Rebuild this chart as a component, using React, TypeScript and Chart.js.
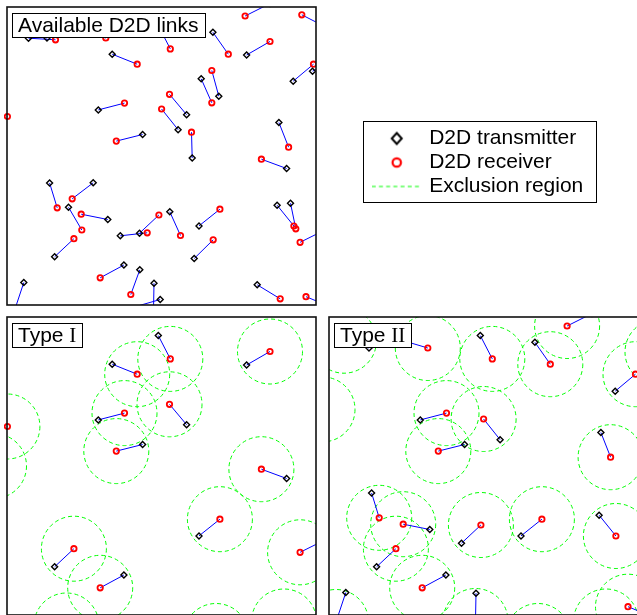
import React, { useEffect, useRef } from 'react';
import { Chart, registerables } from 'chart.js';

Chart.register(...registerables);

// Deployment area (metres, y measured downward from the top edge)
const AREA_W = 309;
const AREA_H = 298;
const EXCL_R = 32.5; // exclusion radius around each receiver

// D2D links: transmitter and receiver positions (index = link id)
const TX_X = [21.5, 40, 72, 105.2, -24, 91.3, 171.1, 135.6, 151.3, 205.9, 263, 319.8, 239.6, 211.8, 194.2, 179.6, 185.2, 286.2, 305.5, 271.9, 279.6, 42.6, 86.2, 61.5, 100.8, 47.6, 113.3, 132.5, 116.9, 132.8, 16.8, 147, 153.2, 162.8, 192, 187.2, 270.1, 283.5, 317.8, 250.2, 324.8, -38, 75, 230, 300, -30, 345];
const TX_Y = [31.2, 31, 23, 47.2, 100, 102.9, 122.7, 127.5, 18.6, 25.3, -3.5, 20.6, 48, 89.2, 71.8, 107.7, 151, 74.2, 64.2, 115.5, 161.5, 176, 175.8, 200.3, 212.5, 249.8, 228.8, 226.2, 258, 262.8, 275.5, 276.2, 292.5, 204.8, 218.9, 251.5, 198.2, 196.2, 223, 277.8, 300.3, 160, 330, 335, 318, 80, 15];
const RX_X = [48.5, 15, 98.8, 130.2, 0.4, 117.5, 154.6, 109.3, 163.3, 221.3, 238.1, 294.8, 263, 204.8, 204.8, 162.5, 184.5, 306.5, 331, 281.6, 254.4, 50.2, 65.2, 74.8, 74.2, 66.9, 140.2, 151.9, 93.2, 123.8, 7, 146.5, 122, 173.5, 212.9, 206.2, 286.9, 288.8, 293.1, 273.2, 299, -13, 59.5, 209, 277, -6.5, 328.5];
const RX_Y = [32.8, 23.7, 31, 57.2, 109.5, 96.1, 102, 134.1, 41.9, 47.2, 9, 7.8, 34.5, 63.5, 95.8, 87.3, 125.2, 57.2, 52, 140.2, 152.2, 200.8, 191.8, 223, 207.2, 231.7, 225.8, 208, 270.8, 287.5, 305, 304, 301.5, 228.5, 202.2, 232.8, 219, 221.8, 235.3, 291.8, 289.7, 149, 308.5, 319, 304.5, 92.4, 35];

const ALL_LINKS = TX_X.map((_, i) => i);
const TYPE1_LINKS = [3, 4, 5, 7, 8, 12, 15, 20, 25, 28, 34, 38, 41, 42, 43, 44];
const TYPE2_LINKS = [1, 2, 5, 6, 7, 8, 9, 10, 17, 19, 21, 24, 25, 27, 28, 30, 31, 34, 36, 40, 43, 44, 45, 46];

const LEGEND_LABELS = ['D2D transmitter', 'D2D receiver', 'Exclusion region'];

const SANS = "'Liberation Sans', Arial, Helvetica, sans-serif";
const SERIF = "'Liberation Serif', 'Times New Roman', serif";

const TX_COLOR = '#000000';
const RX_COLOR = '#ff0000';
const LINK_COLOR = '#0000ff';
const EXCL_COLOR = '#00ff00';

type Part = { text: string; font: string };

const dashPlugin = {
  id: 'exclDash',
  beforeDatasetDraw(chart: any, args: any) {
    const ds = chart.data.datasets[args.index];
    if (ds && ds.isExcl) chart.ctx.setLineDash([4, 3]);
  },
  afterDatasetDraw(chart: any) {
    chart.ctx.setLineDash([]);
  },
};

const framePlugin = {
  id: 'panelFrame',
  afterDraw(chart: any, _args: any, opts: any) {
    const { ctx, chartArea: a } = chart;
    ctx.save();
    ctx.setLineDash([]);
    ctx.lineWidth = 1.6;
    ctx.strokeStyle = '#111';
    ctx.strokeRect(a.left, a.top, a.right - a.left, a.bottom - a.top);
    const parts: Part[] = opts && opts.parts;
    if (parts && parts.length) {
      let w = 0;
      parts.forEach((p) => {
        ctx.font = p.font;
        w += ctx.measureText(p.text).width;
      });
      const bx = Math.round(a.left + 5);
      const by = Math.round(a.top + 6);
      const bw = Math.round(w + 12);
      const bh = 24;
      ctx.fillStyle = '#fff';
      ctx.fillRect(bx, by, bw, bh);
      ctx.lineWidth = 1;
      ctx.strokeStyle = '#000';
      ctx.strokeRect(bx + 0.5, by + 0.5, bw, bh);
      ctx.fillStyle = '#000';
      ctx.textBaseline = 'alphabetic';
      ctx.textAlign = 'left';
      let x = bx + 6;
      parts.forEach((p) => {
        ctx.font = p.font;
        ctx.fillText(p.text, x, by + 19);
        x += ctx.measureText(p.text).width;
      });
    }
    ctx.restore();
  },
};

function exclRadius(c: any) {
  const s = c.chart.scales.x;
  return Math.abs(s.getPixelForValue(EXCL_R) - s.getPixelForValue(0));
}

function buildDatasets(links: number[], showExcl: boolean) {
  const ds: any[] = [];
  if (showExcl) {
    ds.push({
      label: 'Exclusion region',
      isExcl: true,
      data: links.map((i) => ({ x: RX_X[i], y: RX_Y[i] })),
      showLine: false,
      pointStyle: 'circle',
      pointRadius: exclRadius,
      pointBorderColor: EXCL_COLOR,
      pointBackgroundColor: 'rgba(0,0,0,0)',
      pointBorderWidth: 1,
      order: 4,
      clip: 0,
    });
  }
  links.forEach((i) => {
    ds.push({
      label: 'link',
      data: [
        { x: TX_X[i], y: TX_Y[i] },
        { x: RX_X[i], y: RX_Y[i] },
      ],
      showLine: true,
      borderColor: LINK_COLOR,
      borderWidth: 1,
      pointRadius: 0,
      order: 3,
      clip: 0,
    });
  });
  ds.push({
    label: 'D2D receiver',
    data: links.map((i) => ({ x: RX_X[i], y: RX_Y[i] })),
    showLine: false,
    pointStyle: 'circle',
    pointRadius: 2.7,
    pointBorderWidth: 1.8,
    pointBorderColor: RX_COLOR,
    pointBackgroundColor: 'rgba(255,255,255,0)',
    order: 2,
    clip: { left: 5, top: 0, right: 0, bottom: 0 },
  });
  ds.push({
    label: 'D2D transmitter',
    data: links.map((i) => ({ x: TX_X[i], y: TX_Y[i] })),
    showLine: false,
    pointStyle: 'rectRot',
    pointRadius: 3,
    pointBorderWidth: 1.4,
    pointBorderColor: TX_COLOR,
    pointBackgroundColor: 'rgba(255,255,255,0)',
    order: 1,
    clip: 0,
  });
  return ds;
}

const PAD = 3;
const CW = AREA_W + 2 * PAD;
const CH = AREA_H + 2 * PAD;

function Panel(props: { left: number; top: number; links: number[]; excl: boolean; parts: Part[] }) {
  const ref = useRef<HTMLCanvasElement | null>(null);
  useEffect(() => {
    if (!ref.current) return;
    const chart = new Chart(ref.current, {
      type: 'scatter',
      data: { datasets: buildDatasets(props.links, props.excl) },
      options: {
        animation: false,
        responsive: false,
        events: [],
        layout: { padding: PAD, autoPadding: false },
        scales: {
          x: { type: 'linear', min: 0, max: AREA_W, display: false },
          y: { type: 'linear', min: 0, max: AREA_H, reverse: true, display: false },
        },
        plugins: {
          legend: { display: false },
          tooltip: { enabled: false },
          panelFrame: { parts: props.parts },
        } as any,
      } as any,
      plugins: [dashPlugin, framePlugin],
    });
    return () => chart.destroy();
  }, []);
  return (
    <canvas
      ref={ref}
      width={CW}
      height={CH}
      style={{ position: 'absolute', left: props.left, top: props.top, width: CW, height: CH }}
    />
  );
}

function makeDiamond() {
  const c = document.createElement('canvas');
  c.width = 16;
  c.height = 16;
  const g = c.getContext('2d')!;
  g.strokeStyle = TX_COLOR;
  g.lineWidth = 2;
  g.beginPath();
  g.moveTo(8, 2.5);
  g.lineTo(13, 8);
  g.lineTo(8, 13.5);
  g.lineTo(3, 8);
  g.closePath();
  g.stroke();
  return c;
}

function makeRing() {
  const c = document.createElement('canvas');
  c.width = 14;
  c.height = 14;
  const g = c.getContext('2d')!;
  g.strokeStyle = RX_COLOR;
  g.lineWidth = 2.2;
  g.beginPath();
  g.arc(7, 7, 4.2, 0, Math.PI * 2);
  g.stroke();
  return c;
}

function makeDash() {
  const c = document.createElement('canvas');
  c.width = 50;
  c.height = 4;
  const g = c.getContext('2d')!;
  g.strokeStyle = EXCL_COLOR;
  g.lineWidth = 1.2;
  g.setLineDash([4, 3.2]);
  g.beginPath();
  g.moveTo(0, 2);
  g.lineTo(50, 2);
  g.stroke();
  return c;
}

const LEG_W = 234;
const LEG_H = 82;

const legendBorder = {
  id: 'legendBorder',
  afterDraw(chart: any) {
    const { ctx } = chart;
    ctx.save();
    ctx.lineWidth = 1;
    ctx.strokeStyle = '#000';
    ctx.strokeRect(0.5, 0.5, LEG_W - 1, LEG_H - 1);
    ctx.restore();
  },
};

function LegendBox() {
  const ref = useRef<HTMLCanvasElement | null>(null);
  useEffect(() => {
    if (!ref.current) return;
    const styles = [makeDiamond(), makeRing(), makeDash()];
    const colors = [TX_COLOR, RX_COLOR, EXCL_COLOR];
    const chart = new Chart(ref.current, {
      type: 'scatter',
      data: { datasets: LEGEND_LABELS.map((l) => ({ label: l, data: [] })) },
      options: {
        animation: false,
        responsive: false,
        events: [],
        layout: { padding: { left: 8.7, top: 4, right: 0, bottom: 0 }, autoPadding: false },
        scales: { x: { display: false }, y: { display: false } },
        plugins: {
          tooltip: { enabled: false },
          legend: {
            display: true,
            position: 'top',
            align: 'start',
            maxHeight: 100,
            labels: {
              usePointStyle: true,
              pointStyleWidth: 44,
              padding: 3,
              color: '#000',
              font: { family: SANS, size: 21 },
              generateLabels: () =>
                LEGEND_LABELS.map((text, i) => ({
                  text,
                  fillStyle: colors[i],
                  strokeStyle: colors[i],
                  fontColor: '#000',
                  lineWidth: 1,
                  pointStyle: styles[i] as any,
                  hidden: false,
                  datasetIndex: i,
                })),
            },
          },
        } as any,
      } as any,
      plugins: [legendBorder],
    });
    return () => chart.destroy();
  }, []);
  return (
    <canvas
      ref={ref}
      width={LEG_W}
      height={120}
      style={{ position: 'absolute', left: 363, top: 121, width: LEG_W, height: 120 }}
    />
  );
}

export default function App() {
  return (
    <div
      style={{
        position: 'fixed',
        left: 0,
        top: 0,
        width: 637,
        height: 615,
        overflow: 'hidden',
        background: '#fff',
      }}
    >
      <Panel
        left={4}
        top={4}
        links={ALL_LINKS}
        excl={false}
        parts={[{ text: 'Available D2D links', font: `21px ${SANS}` }]}
      />
      <Panel
        left={4}
        top={314}
        links={TYPE1_LINKS}
        excl={true}
        parts={[
          { text: 'Type ', font: `21px ${SANS}` },
          { text: 'I', font: `21px ${SERIF}` },
        ]}
      />
      <Panel
        left={326}
        top={314}
        links={TYPE2_LINKS}
        excl={true}
        parts={[
          { text: 'Type ', font: `21px ${SANS}` },
          { text: 'II', font: `21px ${SERIF}` },
        ]}
      />
      <LegendBox />
    </div>
  );
}
